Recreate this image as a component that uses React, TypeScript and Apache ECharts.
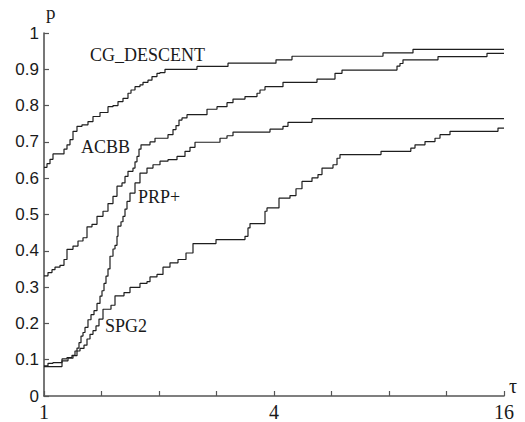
import React, { useEffect, useRef } from "react";
import * as echarts from "echarts";

// Performance profiles: tau (ratio) and p (fraction of problems)
const cgTau = [1, 1.0182, 1.0368, 1.0557, 1.1281, 1.1487, 1.1697, 1.191, 1.22, 1.2573, 1.3036, 1.3436, 1.4015, 1.4707, 1.5157, 1.5621, 1.6099, 1.6591, 1.6894, 1.7307, 1.7834, 1.8163, 1.8716, 1.9173, 1.9759, 2.0121, 2.0736, 2.5146, 3.0314, 4.0485, 4.4584, 7.7157, 9.245, 16];
const cgP = [0.63, 0.64, 0.652, 0.667, 0.68, 0.692, 0.706, 0.729, 0.743, 0.747, 0.756, 0.77, 0.781, 0.797, 0.8, 0.811, 0.82, 0.834, 0.843, 0.852, 0.857, 0.864, 0.87, 0.88, 0.889, 0.891, 0.9, 0.908, 0.917, 0.926, 0.936, 0.945, 0.955, 0.955];

const acbbTau = [1, 1.0244, 1.0494, 1.0685, 1.1012, 1.1281, 1.1487, 1.191, 1.2274, 1.265, 1.2959, 1.3355, 1.3764, 1.4271, 1.4707, 1.5157, 1.5527, 1.6002, 1.6294, 1.6591, 1.7098, 1.7307, 1.7516, 1.7729, 1.7944, 1.8944, 1.9524, 2.1114, 2.1761, 2.2158, 2.2562, 2.2974, 2.3677, 2.671, 2.837, 3.0134, 3.1242, 3.3584, 3.6106, 3.6764, 3.7888, 4.2228, 5.1836, 5.7776, 6.0268, 8.3952, 8.548, 8.704, 10.749, 14.442, 16];
const acbbP = [0.331, 0.34, 0.348, 0.355, 0.36, 0.376, 0.404, 0.413, 0.427, 0.436, 0.466, 0.473, 0.495, 0.509, 0.53, 0.55, 0.578, 0.587, 0.605, 0.619, 0.628, 0.645, 0.66, 0.68, 0.692, 0.7, 0.71, 0.72, 0.734, 0.745, 0.76, 0.766, 0.775, 0.79, 0.797, 0.808, 0.818, 0.825, 0.834, 0.843, 0.852, 0.864, 0.873, 0.889, 0.898, 0.909, 0.916, 0.926, 0.935, 0.944, 0.944];

const prpTau = [1, 1.0244, 1.0557, 1.1146, 1.1487, 1.1838, 1.2054, 1.2201, 1.2349, 1.2499, 1.265, 1.2803, 1.3036, 1.3275, 1.3517, 1.3764, 1.4015, 1.4185, 1.4357, 1.4531, 1.4707, 1.4885, 1.5157, 1.5341, 1.5527, 1.5621, 1.5906, 1.6099, 1.6294, 1.6492, 1.6792, 1.7307, 1.7834, 1.8604, 1.9289, 2.0121, 2.1114, 2.2292, 2.3394, 2.4108, 2.4847, 2.8889, 3.0134, 3.1242, 3.9048, 4.2228, 4.352, 5.0296, 16];
const prpP = [0.083, 0.09, 0.092, 0.102, 0.106, 0.112, 0.124, 0.132, 0.147, 0.165, 0.175, 0.189, 0.21, 0.224, 0.235, 0.255, 0.275, 0.29, 0.31, 0.33, 0.35, 0.385, 0.405, 0.415, 0.44, 0.468, 0.48, 0.495, 0.515, 0.536, 0.559, 0.587, 0.614, 0.628, 0.637, 0.647, 0.651, 0.66, 0.674, 0.685, 0.699, 0.71, 0.717, 0.727, 0.735, 0.743, 0.754, 0.764, 0.764];

const spgTau = [1, 1.1146, 1.1556, 1.191, 1.2201, 1.2423, 1.2726, 1.2959, 1.3195, 1.3436, 1.3681, 1.393, 1.4271, 1.4975, 1.5341, 1.6196, 1.6792, 1.7834, 1.8604, 1.8944, 1.9759, 2.0488, 2.137, 2.2427, 2.3534, 2.4548, 2.82, 3.3584, 3.4196, 3.4614, 3.7888, 3.8348, 4.1224, 4.4048, 4.567, 4.7352, 5.0296, 5.2148, 5.342, 5.7084, 5.8476, 5.954, 7.6244, 9.125, 9.3576, 9.9384, 10.556, 10.879, 11.555, 15.431, 16];
const spgP = [0.081, 0.097, 0.104, 0.111, 0.124, 0.131, 0.14, 0.157, 0.17, 0.18, 0.193, 0.212, 0.239, 0.25, 0.276, 0.285, 0.299, 0.31, 0.315, 0.328, 0.335, 0.355, 0.367, 0.376, 0.394, 0.42, 0.431, 0.44, 0.463, 0.475, 0.509, 0.518, 0.545, 0.552, 0.571, 0.591, 0.601, 0.61, 0.628, 0.637, 0.655, 0.665, 0.674, 0.683, 0.692, 0.701, 0.71, 0.72, 0.729, 0.738, 0.738];

const xTickLabels = ["1", "4", "16"];
const seriesNames = ["CG_DESCENT", "ACBB", "PRP+", "SPG2"];

const serif = "'Liberation Serif', 'Times New Roman', serif";
const sans = "'Liberation Sans', Arial, sans-serif";

function toData(tau: number[], p: number[]) {
  return tau.map((t, i) => [Math.log2(t), p[i]]);
}

export default function App() {
  const ref = useRef<HTMLDivElement>(null);
  useEffect(() => {
    document.body.style.margin = "0";
    if (!ref.current) return;
    const chart = echarts.init(ref.current, null, { renderer: "svg" });
    const lineStyle = { color: "#1e1e1e", width: 1.2 };
    const mk = (name: string, tau: number[], p: number[]) => ({
      name,
      type: "line",
      step: "end",
      showSymbol: false,
      symbol: "none",
      data: toData(tau, p),
      lineStyle,
      silent: true,
    });
    chart.setOption({
      animation: false,
      backgroundColor: "#ffffff",
      grid: { left: 44, right: 21, top: 33, bottom: 25 },
      xAxis: {
        type: "value",
        min: 0,
        max: 4,
        interval: 0.5,
        axisLine: { lineStyle: { color: "#555", width: 1.6 } },
        axisTick: { inside: true, length: 5, lineStyle: { color: "#555", width: 1.2 } },
        splitLine: { show: false },
        axisLabel: {
          margin: 6,
          fontFamily: serif,
          fontSize: 20,
          color: "#1a1a1a",
          formatter: (v: number) => {
            const s = String(Math.round(Math.pow(2, v) * 1000) / 1000);
            return xTickLabels.includes(s) && Number.isInteger(v) ? s : "";
          },
        },
      },
      yAxis: {
        type: "value",
        min: 0,
        max: 1,
        interval: 0.1,
        axisLine: { show: true, lineStyle: { color: "#555", width: 1.6 } },
        axisTick: { show: true, inside: true, length: 5, lineStyle: { color: "#555", width: 1.2 } },
        splitLine: { show: false },
        axisLabel: {
          margin: 5,
          fontFamily: sans,
          fontSize: 17,
          color: "#1a1a1a",
          formatter: (v: number) => (v === 0 ? "0" : v === 1 ? "1" : v.toFixed(1)),
        },
      },
      series: [
        mk(seriesNames[0], cgTau, cgP),
        mk(seriesNames[1], acbbTau, acbbP),
        mk(seriesNames[2], prpTau, prpP),
        mk(seriesNames[3], spgTau, spgP),
      ],
      graphic: [
        { type: "text", left: 90, top: 46, style: { text: seriesNames[0], font: `18px ${serif}`, fill: "#1a1a1a" } },
        { type: "text", left: 81, top: 138, style: { text: seriesNames[1], font: `18px ${serif}`, fill: "#1a1a1a" } },
        { type: "text", left: 138, top: 188, style: { text: seriesNames[2], font: `18px ${serif}`, fill: "#1a1a1a" } },
        { type: "text", left: 105, top: 317, style: { text: seriesNames[3], font: `18px ${serif}`, fill: "#1a1a1a" } },
        { type: "text", left: 46, top: 3, style: { text: "p", font: `19px ${serif}`, fill: "#1a1a1a" } },
        { type: "text", left: 509, top: 376, style: { text: "τ", font: `20px ${serif}`, fill: "#1a1a1a" } },
      ],
    });
    return () => chart.dispose();
  }, []);
  return <div ref={ref} style={{ width: 525, height: 422 }} />;
}
